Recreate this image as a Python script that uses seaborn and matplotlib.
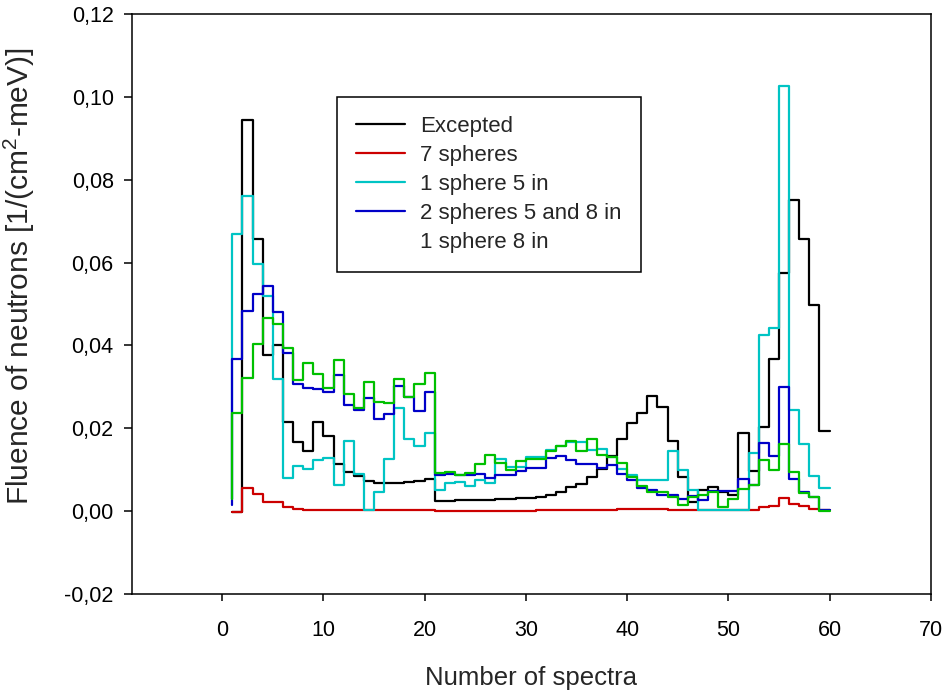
import matplotlib
matplotlib.use("Agg")
import matplotlib.pyplot as plt
from matplotlib.lines import Line2D
from matplotlib.ticker import FuncFormatter
import numpy as np
import pandas as pd
import seaborn as sns

# x positions: first value is the start point at x=1, value k spans [k, k+1]
spectra = list(range(1, 61))

excepted = [-0.0003, -0.0003, 0.0945, 0.0658, 0.0377, 0.0401, 0.0214, 0.0168, 0.0145, 0.0215,
            0.0181, 0.0113, 0.0095, 0.0085, 0.0073, 0.0067, 0.0067, 0.0069, 0.0070, 0.0073,
            0.0077, 0.0025, 0.0025, 0.0026, 0.0027, 0.0027, 0.0028, 0.0029, 0.0030, 0.0031,
            0.0032, 0.0035, 0.0039, 0.0046, 0.0057, 0.0066, 0.0082, 0.0102, 0.0132, 0.0173,
            0.0212, 0.0238, 0.0278, 0.0252, 0.0170, 0.0082, 0.0021, 0.0051, 0.0057, 0.0045,
            0.0039, 0.0189, 0.0098, 0.0204, 0.0367, 0.0574, 0.0750, 0.0657, 0.0498, 0.0194]

seven_spheres = [-0.0003, -0.0003, 0.0055, 0.0041, 0.0022, 0.0021, 0.0009, 0.0004, 0.0003, 0.0002,
                 0.0002, 0.0002, 0.0002, 0.0002, 0.0002, 0.0002, 0.0002, 0.0002, 0.0002, 0.0002,
                 0.0002, 0.0001, 0.0001, 0.0001, 0.0001, 0.0001, 0.0001, 0.0001, 0.0001, 0.0001,
                 0.0001, 0.0002, 0.0002, 0.0002, 0.0002, 0.0002, 0.0002, 0.0002, 0.0003, 0.0004,
                 0.0004, 0.0004, 0.0004, 0.0004, 0.0003, 0.0003, 0.0002, 0.0002, 0.0002, 0.0002,
                 0.0002, 0.0002, 0.0003, 0.0009, 0.0013, 0.0031, 0.0018, 0.0012, 0.0006, 0.0002]

one_sphere_5 = [0.0030, 0.0669, 0.0760, 0.0597, 0.0520, 0.0320, 0.0081, 0.0109, 0.0101, 0.0123,
                0.0128, 0.0064, 0.0169, 0.0089, 0.0002, 0.0047, 0.0127, 0.0250, 0.0175, 0.0157,
                0.0188, 0.0050, 0.0067, 0.0071, 0.0061, 0.0074, 0.0069, 0.0125, 0.0107, 0.0106,
                0.0130, 0.0130, 0.0148, 0.0157, 0.0168, 0.0168, 0.0148, 0.0149, 0.0131, 0.0102,
                0.0088, 0.0075, 0.0075, 0.0075, 0.0144, 0.0099, 0.0051, 0.0003, 0.0002, 0.0002,
                0.0002, 0.0003, 0.0140, 0.0425, 0.0443, 0.1027, 0.0243, 0.0162, 0.0085, 0.0055]

two_spheres_5_8 = [0.0015, 0.0366, 0.0484, 0.0524, 0.0543, 0.0480, 0.0382, 0.0308, 0.0298, 0.0294,
                   0.0288, 0.0329, 0.0255, 0.0243, 0.0272, 0.0222, 0.0235, 0.0302, 0.0275, 0.0242,
                   0.0288, 0.0088, 0.0090, 0.0086, 0.0088, 0.0090, 0.0080, 0.0086, 0.0086, 0.0097,
                   0.0105, 0.0105, 0.0128, 0.0132, 0.0124, 0.0113, 0.0113, 0.0104, 0.0112, 0.0089,
                   0.0075, 0.0055, 0.0052, 0.0039, 0.0039, 0.0029, 0.0036, 0.0027, 0.0049, 0.0049,
                   0.0049, 0.0078, 0.0063, 0.0164, 0.0133, 0.0299, 0.0077, 0.0047, 0.0035, 0.0002]

one_sphere_8 = [0.0030, 0.0238, 0.0321, 0.0404, 0.0467, 0.0451, 0.0393, 0.0316, 0.0357, 0.0332,
                0.0296, 0.0365, 0.0282, 0.0250, 0.0312, 0.0263, 0.0260, 0.0320, 0.0276, 0.0306,
                0.0334, 0.0093, 0.0095, 0.0086, 0.0093, 0.0113, 0.0136, 0.0117, 0.0100, 0.0121,
                0.0125, 0.0125, 0.0146, 0.0157, 0.0170, 0.0146, 0.0174, 0.0135, 0.0130, 0.0117,
                0.0083, 0.0061, 0.0047, 0.0045, 0.0035, 0.0015, 0.0035, 0.0039, 0.0046, 0.0009,
                0.0029, 0.0053, 0.0063, 0.0124, 0.0100, 0.0162, 0.0095, 0.0043, 0.0034, 0.0001]

series_names = ["Excepted", "7 spheres", "1 sphere 5 in", "2 spheres 5 and 8 in", "1 sphere 8 in"]
series_values = [excepted, seven_spheres, one_sphere_5, two_spheres_5_8, one_sphere_8]
series_colors = ["#000000", "#cc0000", "#00c4c4", "#0000c8", "#00c000"]

x_ticks = [0, 10, 20, 30, 40, 50, 60, 70]
y_ticks = [-0.02, 0.00, 0.02, 0.04, 0.06, 0.08, 0.10, 0.12]

df = pd.concat(
    [pd.DataFrame({"spectrum": spectra, "fluence": v, "series": n})
     for n, v in zip(series_names, series_values)],
    ignore_index=True,
)

sns.set_style("white")
plt.rcParams["font.family"] = ["Liberation Sans", "DejaVu Sans"]
plt.rcParams["mathtext.fontset"] = "custom"
plt.rcParams["mathtext.rm"] = "Liberation Sans"
plt.rcParams["mathtext.it"] = "Liberation Sans:italic"

fig = plt.figure(figsize=(9.48, 6.96), dpi=100)
ax = fig.add_axes([0.139, 0.1466, 0.8428, 0.8333])

for name, color in zip(series_names, series_colors):
    sns.lineplot(data=df[df["series"] == name], x="spectrum", y="fluence",
                 color=color, drawstyle="steps-pre", linewidth=1.6,
                 errorbar=None, legend=False, ax=ax)

ax.set_xlim(-8.93, 70)
ax.set_ylim(-0.02, 0.12)
ax.set_xticks(x_ticks)
ax.set_yticks(y_ticks)
ax.yaxis.set_major_formatter(FuncFormatter(lambda v, p: f"{v:.2f}".replace(".", ",").replace("-0,00", "0,00")))
ax.xaxis.set_major_formatter(FuncFormatter(lambda v, p: f"{int(round(v))}"))

for s in ax.spines.values():
    s.set_color("black")
    s.set_linewidth(1.1)
    s.set_visible(True)

ax.tick_params(axis="x", direction="out", length=5, width=1.1, pad=14, labelsize=15.5, colors="black", bottom=True)
ax.tick_params(axis="y", direction="out", length=6, width=1.1, pad=7, labelsize=15.5, colors="black", left=True)

ax.set_xlabel("Number of spectra", fontsize=18.5, labelpad=18)
ax.set_ylabel("Fluence of neutrons [1/(cm$^{2}$-meV)]", fontsize=21.5)
ax.yaxis.set_label_coords(-0.118, 0.547)

handles = [Line2D([0], [0], color=c, lw=1.6) for c in series_colors[:4]]
handles.append(Line2D([0], [0], color="none", lw=1.6))
leg = ax.legend(handles, series_names, loc="upper left", bbox_to_anchor=(0.257, 0.857),
                borderaxespad=0, fontsize=16, frameon=True, fancybox=False,
                edgecolor="black", framealpha=1, handlelength=2.2, handletextpad=0.7,
                labelspacing=0.36, borderpad=0.85)
leg.get_frame().set_linewidth(1.1)

fig.savefig("out.png", dpi=100)
